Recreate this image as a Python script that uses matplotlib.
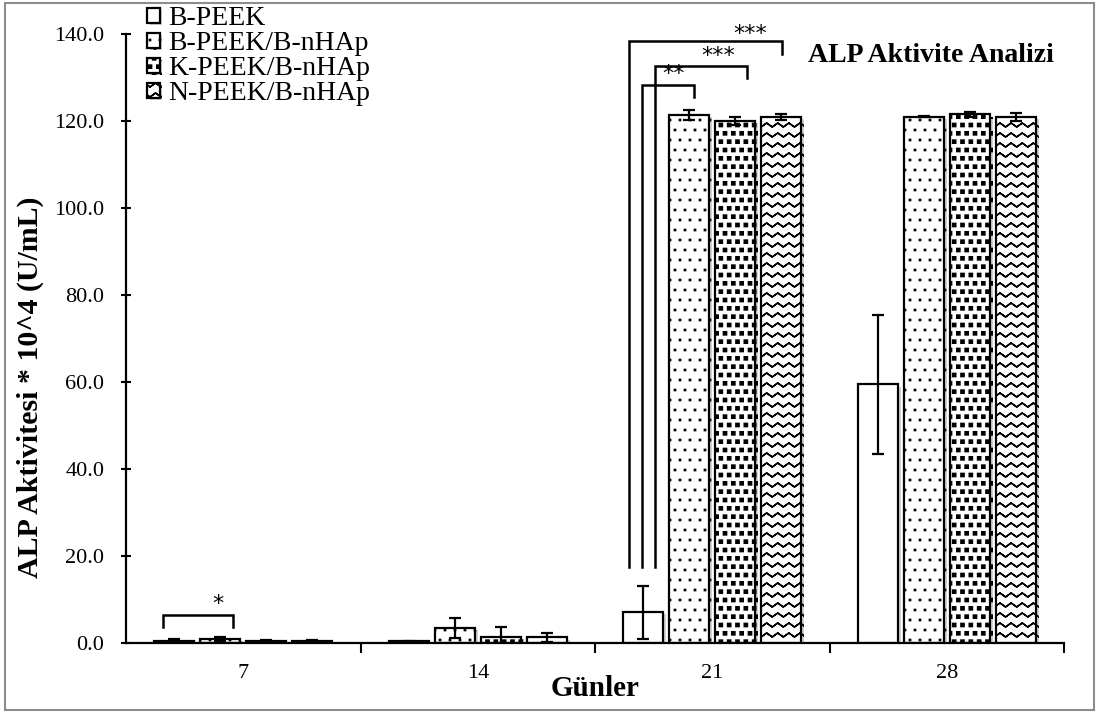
import warnings
import numpy as np
import matplotlib
matplotlib.use('Agg')
import matplotlib.pyplot as plt
import matplotlib.hatch as mhatch
import matplotlib.patheffects as pe
from matplotlib.patches import Rectangle
from matplotlib.path import Path

warnings.filterwarnings('ignore')

# ALP activity (U/mL * 10^4), mean and standard deviation per day
days = ['7', '14', '21', '28']
series_names = ['B-PEEK', 'B-PEEK/B-nHAp', 'K-PEEK/B-nHAp', 'N-PEEK/B-nHAp']
b_peek = [0.4, 0.3, 7.0, 59.4]
b_peek_err = [0.4, 0.1, 6.1, 16.0]
b_peek_nhap = [0.9, 3.3, 121.4, 121.0]
b_peek_nhap_err = [0.5, 2.3, 1.1, 0.2]
k_peek_nhap = [0.4, 1.3, 120.0, 121.5]
k_peek_nhap_err = [0.3, 2.4, 0.9, 0.6]
n_peek_nhap = [0.3, 1.2, 120.9, 121.0]
n_peek_nhap_err = [0.3, 1.1, 0.6, 0.9]

# significance brackets: left x, right x, top, left leg end, right leg end, label, label x, label y
brackets = [
    (-0.342, -0.045, 6.4, 3.5, 3.5, '*', -0.108, 6.6),
    (1.699, 1.923, 128.3, 17.4, 125.4, '**', 1.833, 128.5),
    (1.757, 2.147, 132.7, 17.4, 129.9, '***', 2.025, 132.7),
    (1.646, 2.297, 138.3, 17.4, 135.5, '***', 2.161, 137.7),
]


# extra fill textures: 'd' small dots, 'k' block squares, 'z' zigzag lines
class _Squares(mhatch.Shapes):
    filled = True
    shape_vertices = np.array([[-0.5, -0.5], [0.5, -0.5], [0.5, 0.5],
                               [-0.5, 0.5], [-0.5, -0.5]])
    shape_codes = np.array([Path.MOVETO, Path.LINETO, Path.LINETO,
                            Path.LINETO, Path.CLOSEPOLY], dtype=Path.code_type)


class SmallDots(_Squares):
    size = 0.12

    def __init__(self, hatch, density):
        self.num_rows = 10 if 'd' in hatch else 0
        super().__init__(hatch, density)


class BlockSquares(_Squares):
    size = 0.38

    def __init__(self, hatch, density):
        self.num_rows = 12 if 'k' in hatch else 0
        super().__init__(hatch, density)


class ZigZag(mhatch.HatchPatternBase):
    def __init__(self, hatch, density):
        self.rows = 10 if 'z' in hatch else 0
        self.periods = 9
        self.pts = 2 * self.periods + 1
        self.num_vertices = self.rows * 2 * self.pts

    def set_vertices_and_codes(self, vertices, codes):
        xs = np.linspace(0, 1, self.pts)
        amp = 0.2 / self.rows
        wave = np.where(np.arange(self.pts) % 2 == 0, amp, -amp)
        n = self.pts
        for r in range(self.rows):
            y0 = (r + 0.5) / self.rows
            seg = slice(r * 2 * n, (r + 1) * 2 * n)
            v = np.empty((2 * n, 2))
            v[:n, 0] = xs
            v[:n, 1] = y0 + wave
            v[n:] = v[:n][::-1]
            vertices[seg] = v
            c = np.full(2 * n, Path.LINETO, dtype=Path.code_type)
            c[0] = Path.MOVETO
            codes[seg] = c


mhatch._hatch_types.extend([SmallDots, BlockSquares, ZigZag])

plt.rcParams['font.family'] = ['Liberation Serif', 'DejaVu Serif']
plt.rcParams['hatch.linewidth'] = 1.1
plt.rcParams['hatch.color'] = 'black'

W, H = 1097, 713
fig = plt.figure(figsize=(W / 100, H / 100), dpi=100)
ax = fig.add_axes([126 / W, 1 - 642.7 / H, (1064 - 126) / W, (642.7 - 34) / H])

values = [b_peek, b_peek_nhap, k_peek_nhap, n_peek_nhap]
errors = [b_peek_err, b_peek_nhap_err, k_peek_nhap_err, n_peek_nhap_err]
hatches = ['', 'd', 'k', 'z']
x = np.arange(len(days))
step = 0.196
width = 0.171

shadow = [pe.SimplePatchShadow(offset=(2, -1.5), shadow_rgbFace='0.6', alpha=0.45),
          pe.Normal()]

for j, (vals, errs, hatch, name) in enumerate(zip(values, errors, hatches, series_names)):
    pos = x + (j - 1.5) * step
    bars = ax.bar(pos, vals, width=width, color='white', edgecolor='black',
                  linewidth=1.6, hatch=hatch, label=name, zorder=2)
    for b in bars:
        b.set_path_effects(shadow)
    ax.errorbar(pos, vals, yerr=errs, fmt='none', ecolor='black',
                elinewidth=1.6, capsize=4.5, capthick=1.6, zorder=3)

for xl, xr, top, yl, yr, label, tx, ty in brackets:
    ax.plot([xl, xl, xr, xr], [yl, top, top, yr], color='black', lw=1.8,
            solid_joinstyle='miter', clip_on=False, zorder=4)
    ax.text(tx, ty, label, ha='center', va='bottom', fontsize=16,
            family='DejaVu Sans')

ax.set_xlim(-0.5, len(days) - 0.5)
ax.set_ylim(0, 140)
ax.set_yticks(np.arange(0, 141, 20))
ax.set_yticklabels([f'{v:.1f}' for v in np.arange(0, 141, 20)])
ax.set_xticks(x)
ax.set_xticklabels(days)
ax.set_xticks(np.arange(0.5, len(days), 1), minor=True)

ax.tick_params(axis='y', direction='inout', length=7, width=1.5, pad=12,
               labelsize=16)
ax.tick_params(axis='x', which='major', length=0, pad=15, labelsize=16)
ax.tick_params(axis='x', which='minor', direction='out', length=7, width=1.5)

for side in ['top', 'right']:
    ax.spines[side].set_visible(False)
for side in ['left', 'bottom']:
    ax.spines[side].set_linewidth(1.6)

fig.text(30 / W, 1 - 387 / H, 'ALP Aktivitesi * 10^4 (U/mL)', rotation=90,
         ha='center', va='center', fontsize=21.5, fontweight='bold')
fig.text(595 / W, 1 - 688 / H, 'Günler', ha='center', va='center',
         fontsize=21, fontweight='bold')
fig.text(808 / W, 1 - 62 / H, 'ALP Aktivite Analizi', ha='left', va='baseline',
         fontsize=20, fontweight='bold')

fig.legend(loc='upper left', bbox_to_anchor=(147 / W, 1 - 6 / H), frameon=False,
           fontsize=20, borderpad=0, borderaxespad=0, handlelength=0.45,
           handleheight=0.45, handletextpad=0.3, labelspacing=0.0)

fig.patches.append(Rectangle((5 / W, 1 - 710 / H), 1089 / W, 707 / H,
                             transform=fig.transFigure, fill=False,
                             edgecolor='0.55', linewidth=1.5))

fig.savefig('out.png', dpi=100)
